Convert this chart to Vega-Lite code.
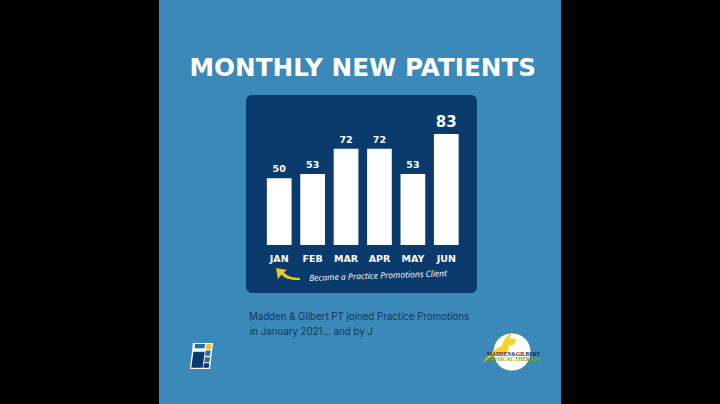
{
  "$schema": "https://vega.github.io/schema/vega-lite/v6.json",
  "autosize": "none",
  "width": 200.5,
  "height": 111,
  "padding": {"left": 262.5, "top": 134, "right": 257, "bottom": 159},
  "background": "#000000",
  "view": {"stroke": null},
  "title": {
    "text": "MONTHLY NEW PATIENTS",
    "anchor": "middle",
    "offset": -81,
    "font": "DejaVu Sans",
    "fontSize": 24.7,
    "fontWeight": "bold",
    "color": "#ffffff"
  },
  "data": {
    "values": [
      {"month": "JAN", "patients": 50},
      {"month": "FEB", "patients": 53},
      {"month": "MAR", "patients": 72},
      {"month": "APR", "patients": 72},
      {"month": "MAY", "patients": 53},
      {"month": "JUN", "patients": 83}
    ]
  },
  "layer": [
    {
      "data": {"values": [{"item": "backdrop"}]},
      "mark": {"type": "rect", "color": "#3a89b8"},
      "encoding": {
        "x": {"value": -103.5},
        "x2": {"value": 298.5},
        "y": {"value": -134},
        "y2": {"value": 270}
      }
    },
    {
      "data": {"values": [{"item": "panel"}]},
      "mark": {"type": "rect", "color": "#0a3b6c", "cornerRadius": 6},
      "encoding": {
        "x": {"value": -16.5},
        "x2": {"value": 214.5},
        "y": {"value": -39},
        "y2": {"value": 159}
      }
    },
    {
      "mark": {"type": "bar", "color": "#ffffff", "clip": false},
      "encoding": {
        "x": {
          "field": "month",
          "type": "nominal",
          "sort": null,
          "title": null,
          "scale": {"paddingInner": 0.26, "paddingOuter": 0.13},
          "axis": {
            "domain": false,
            "ticks": false,
            "labelAngle": 0,
            "labelPadding": 8,
            "labelFont": "DejaVu Sans",
            "labelFontSize": 9.5,
            "labelFontWeight": "bold",
            "labelColor": "#ffffff",
            "zindex": 1
          }
        },
        "y": {
          "field": "patients",
          "type": "quantitative",
          "scale": {"domain": [0, 83], "nice": false},
          "axis": null
        }
      }
    },
    {
      "transform": [{"filter": "datum.month != 'JUN'"}],
      "mark": {"type": "text", "baseline": "bottom", "dy": -4, "font": "DejaVu Sans", "fontWeight": "bold", "fontSize": 9.5, "color": "#ffffff"},
      "encoding": {
        "x": {"field": "month", "type": "nominal", "sort": null},
        "y": {"field": "patients", "type": "quantitative"},
        "text": {"field": "patients", "type": "quantitative"}
      }
    },
    {
      "transform": [{"filter": "datum.month == 'JUN'"}],
      "mark": {"type": "text", "baseline": "bottom", "dy": -4, "font": "DejaVu Sans", "fontWeight": "bold", "fontSize": 15, "color": "#ffffff"},
      "encoding": {
        "x": {"field": "month", "type": "nominal", "sort": null},
        "y": {"field": "patients", "type": "quantitative"},
        "text": {"field": "patients", "type": "quantitative"}
      }
    },
    {
      "data": {"values": [{"note": "Became a Practice Promotions Client"}]},
      "mark": {"type": "text", "align": "center", "baseline": "middle", "angle": -2, "font": "Open Sans", "fontStyle": "italic", "fontSize": 8.5, "color": "#ffffff"},
      "encoding": {
        "x": {"value": 115.5},
        "y": {"value": 141.6},
        "text": {"field": "note"}
      }
    },
    {
      "data": {"values": [{"item": "arrow"}]},
      "mark": {"type": "point", "filled": true, "opacity": 1, "color": "#f2c526", "size": 900, "shape": "M-.8,-.4 L-.07,-.27 L-.28,-.12 C-.1,.1 .2,.26 .8,.26 L.8,.4 C.2,.42 -.25,.3 -.42,.03 L-.67,.33 Z"},
      "encoding": {"x": {"value": 25.5}, "y": {"value": 140}}
    },
    {
      "data": {"values": [{"line": "Madden & Gilbert PT joined Practice Promotions"}]},
      "mark": {"type": "text", "align": "left", "baseline": "middle", "font": "Inter", "fontSize": 9.7, "color": "#12375f"},
      "encoding": {"x": {"value": -13.5}, "y": {"value": 182.5}, "text": {"field": "line"}}
    },
    {
      "data": {"values": [{"line": "in January 2021... and by J"}]},
      "mark": {"type": "text", "align": "left", "baseline": "middle", "font": "Inter", "fontSize": 9.7, "color": "#12375f"},
      "encoding": {"x": {"value": -12.5}, "y": {"value": 198}, "text": {"field": "line"}}
    },
    {
      "data": {"values": [{"item": "icon frame"}]},
      "mark": {"type": "point", "filled": true, "opacity": 1, "color": "#ffffff", "size": 900, "shape": "M-.57,-.87 L.77,-.87 L.57,.87 L-.77,.87 Z"},
      "encoding": {"x": {"value": -61}, "y": {"value": 222}}
    },
    {
      "data": {"values": [{"item": "icon navy"}]},
      "mark": {"type": "point", "filled": true, "opacity": 1, "color": "#0a3b6c", "size": 900, "shape": "M-.54,-.29 L.21,-.29 L.08,.78 L-.68,.78 Z M.17,.49 L.52,.49 L.48,.78 L.12,.78 Z"},
      "encoding": {"x": {"value": -61}, "y": {"value": 222}}
    },
    {
      "data": {"values": [{"item": "icon blue"}]},
      "mark": {"type": "point", "filled": true, "opacity": 1, "color": "#1f6fae", "size": 900, "shape": "M-.43,-.8 L.24,-.8 L.2,-.51 L-.46,-.51 Z M.28,-.36 L.61,-.36 L.57,-.02 L.23,-.02 Z M.23,.09 L.57,.09 L.52,.42 L.19,.42 Z"},
      "encoding": {"x": {"value": -61}, "y": {"value": 222}}
    },
    {
      "data": {"values": [{"item": "icon yellow"}]},
      "mark": {"type": "point", "filled": true, "opacity": 1, "color": "#f2c526", "size": 900, "shape": "M.31,-.8 L.68,-.8 L.64,-.44 L.27,-.44 Z"},
      "encoding": {"x": {"value": -61}, "y": {"value": 222}}
    },
    {
      "data": {"values": [{"item": "logo disc"}]},
      "mark": {"type": "point", "shape": "circle", "filled": true, "opacity": 1, "color": "#ffffff", "size": 1385},
      "encoding": {"x": {"value": 249.5}, "y": {"value": 218}}
    },
    {
      "data": {"values": [{"item": "logo swoosh"}]},
      "mark": {"type": "point", "filled": true, "opacity": 1, "color": "#f5d327", "size": 3600, "shape": "M-.97,.37 C-.8,.05 -.55,-.12 -.33,-.22 C-.3,-.4 -.15,-.58 .02,-.66 C-.05,-.55 -.08,-.48 -.1,-.42 C.02,-.5 .15,-.45 .12,-.33 C.08,-.22 -.05,-.2 -.12,-.22 C-.1,-.1 -.12,0 -.2,.03 C-.5,.03 -.75,.15 -.97,.37 Z"},
      "encoding": {"x": {"value": 249.5}, "y": {"value": 218}}
    },
    {
      "data": {"values": [{"line": "MADDEN&GILBERT"}]},
      "mark": {"type": "text", "align": "center", "baseline": "middle", "font": "Liberation Serif", "fontWeight": "bold", "fontSize": 5.4, "color": "#12263f"},
      "encoding": {"x": {"value": 251}, "y": {"value": 220}, "text": {"field": "line"}}
    },
    {
      "data": {"values": [{"line": "PHYSICAL THERAPY"}]},
      "mark": {"type": "text", "align": "center", "baseline": "middle", "font": "Liberation Serif", "fontWeight": "bold", "fontSize": 5.4, "color": "#7fa51f"},
      "encoding": {"x": {"value": 251}, "y": {"value": 225}, "text": {"field": "line"}}
    }
  ]
}
